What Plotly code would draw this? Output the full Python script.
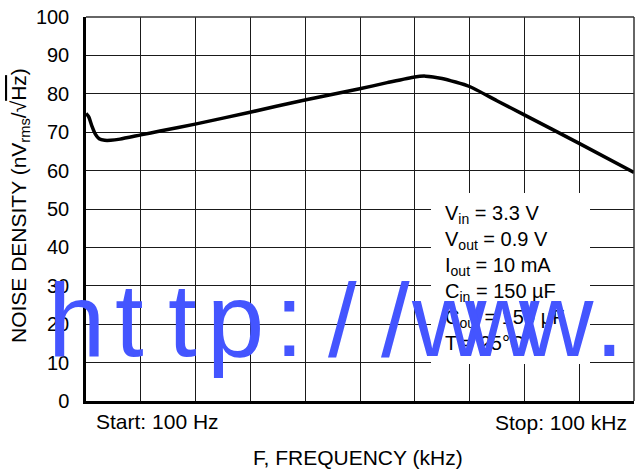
import plotly.graph_objects as go

# Data (frequency in kHz, linear sweep 100 Hz .. 100 kHz)
FREQ_KHZ = [0.1, 0.6, 1.2, 1.8, 2.5, 3.5, 4.6, 6.3, 10.1, 13.6, 20.0, 30.0, 40.0,
            50.0, 55.0, 60.0, 62.0, 65.0, 70.0, 75.0, 80.0, 90.0, 100.0]
NOISE_NV = [74.9, 74.0, 71.5, 69.5, 68.3, 67.9, 67.9, 68.2, 69.3, 70.3, 72.1, 75.2, 78.4,
            81.3, 82.9, 84.4, 84.6, 84.0, 81.9, 78.2, 74.5, 67.1, 59.5]

Y_TICKS = [0, 10, 20, 30, 40, 50, 60, 70, 80, 90, 100]
CONDITIONS = ["V<sub>in</sub> = 3.3 V", "V<sub>out</sub> = 0.9 V", "I<sub>out</sub> = 10 mA",
              "C<sub>in</sub> = 150 µF", "C<sub>out</sub> = 150 µF", "T = 25°C"]
START_LABEL = "Start: 100 Hz"
STOP_LABEL = "Stop: 100 kHz"
X_TITLE = "F, FREQUENCY (kHz)"
Y_TITLE = "NOISE DENSITY (nV<sub>rms</sub>/√<span style='text-decoration:overline'>Hz</span>)"
WATERMARK = "http://www."

FONT = "Liberation Sans, Arial, Helvetica, sans-serif"
L, R, T, B = 86, 1, 17, 68
W, H = 635, 469
PW, PH = W - L - R, H - T - B

def px(xp):
    return (xp - L) / PW

def py(yp):
    return (H - B - yp) / PH

fig = go.Figure()
fig.add_trace(go.Scatter(x=FREQ_KHZ, y=NOISE_NV, mode="lines",
                         line=dict(color="black", width=3.5, shape="spline", smoothing=0.6),
                         hoverinfo="skip", showlegend=False))

fig.update_layout(
    width=W, height=H,
    margin=dict(l=L, r=R, t=T, b=B),
    paper_bgcolor="white", plot_bgcolor="white",
    font=dict(family=FONT, size=20, color="black"),
    xaxis=dict(range=[0.1, 100], tick0=0.1, dtick=9.99, showticklabels=False,
               showgrid=True, gridcolor="#1a1a1a", gridwidth=1.2, zeroline=False,
               showline=True, linecolor="black", linewidth=2.5, ticks=""),
    yaxis=dict(range=[0, 100], tickvals=Y_TICKS, ticktext=[str(v) for v in Y_TICKS],
               showgrid=True, gridcolor="#1a1a1a", gridwidth=1.2, zeroline=False,
               showline=True, linecolor="black", linewidth=2.5, ticks="",
               ticklabelstandoff=10, tickfont=dict(size=20)),
)

# top and right border
fig.add_shape(type="line", xref="paper", yref="paper", x0=0, x1=1, y0=1, y1=1,
              line=dict(color="#333", width=1.5), layer="above")
fig.add_shape(type="line", xref="paper", yref="paper", x0=1, x1=1, y0=0, y1=1,
              line=dict(color="#333", width=1.5), layer="above")

# white box behind conditions
fig.add_shape(type="rect", xref="paper", yref="paper",
              x0=px(431), x1=px(590), y0=py(364), y1=py(193),
              fillcolor="white", line=dict(width=0), layer="above")

fig.add_annotation(text="<br>".join(CONDITIONS), xref="paper", yref="paper",
                   x=px(443), y=py(200), xanchor="left", yanchor="top", align="left",
                   showarrow=False, font=dict(size=20, color="black"))

fig.add_annotation(text=START_LABEL, xref="paper", yref="paper", x=px(94), y=py(421),
                   xanchor="left", yanchor="middle", showarrow=False, font=dict(size=21))
fig.add_annotation(text=STOP_LABEL, xref="paper", yref="paper", x=px(629), y=py(422),
                   xanchor="right", yanchor="middle", showarrow=False, font=dict(size=21))
fig.add_annotation(text=X_TITLE, xref="paper", yref="paper", x=px(358), y=py(457),
                   xanchor="center", yanchor="middle", showarrow=False, font=dict(size=21))
fig.add_annotation(text=Y_TITLE, xref="paper", yref="paper", x=px(20), y=py(206),
                   xanchor="center", yanchor="middle", showarrow=False, textangle=-90,
                   font=dict(size=21))

# watermark overlay, one character per fixed-width cell
for i, ch in enumerate(WATERMARK):
    fig.add_annotation(text=ch, xref="paper", yref="paper", x=px(76 + 53.3 * i), y=py(320),
                       xanchor="center", yanchor="middle", showarrow=False,
                       font=dict(size=103, color="#4455ff", family=FONT))

fig.write_html("out.html", config={"displayModeBar": False},
               post_script="document.body.style.margin='0';document.body.style.overflow='hidden';")
